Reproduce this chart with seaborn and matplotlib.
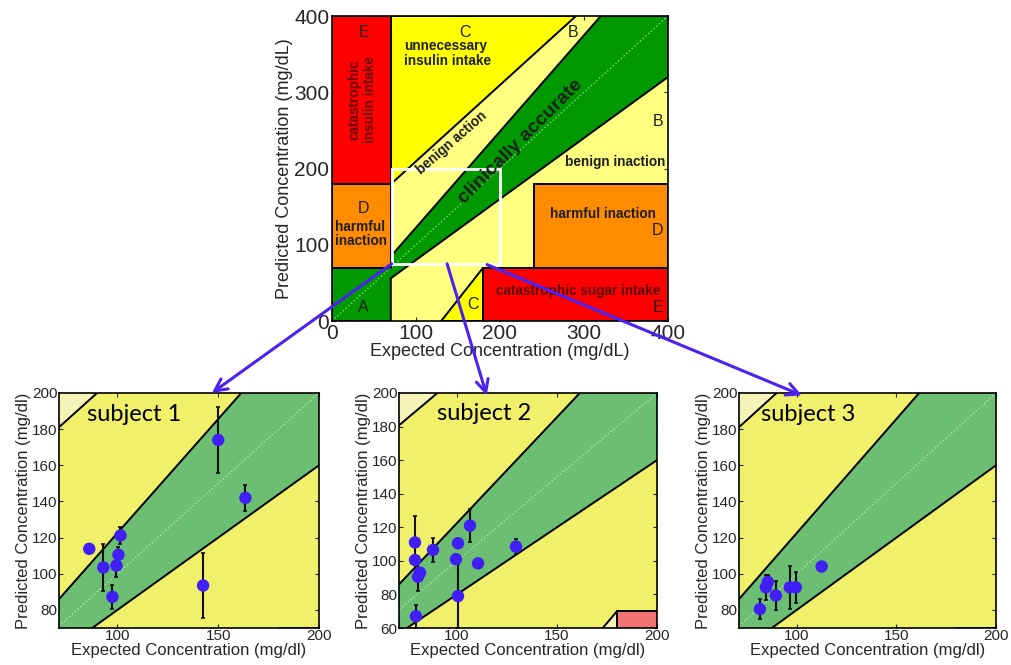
import matplotlib
matplotlib.use("Agg")
import matplotlib.pyplot as plt
from matplotlib.patches import Polygon, Rectangle, ConnectionPatch
import seaborn as sns
import pandas as pd

# ---- measurements per subject (mg/dl): expected, predicted mean, predicted SD ----
s1_expected = [86, 93, 97.5, 99.5, 100.5, 101.5, 142.5, 150, 163.5]
s1_predicted = [113.8, 103.5, 87.2, 104.5, 110.5, 121.2, 93.5, 174, 142]
s1_sd = [0, 13, 6.5, 6.5, 4.5, 4.5, 18, 18, 7]

s2_expected = [79, 79, 80.5, 81.5, 79.5, 88, 100.5, 99.5, 100.5, 106.5, 110.5, 129.5]
s2_predicted = [111, 100.5, 90.5, 93, 67, 106.5, 110.5, 101, 79, 121, 98.5, 108.5]
s2_sd = [16, 0, 8.5, 0, 7, 7, 0, 0, 19, 10, 0, 4.5]

s3_expected = [81.5, 84.5, 85.5, 89.5, 96.5, 99.5, 112.5]
s3_predicted = [80.5, 92.5, 95.5, 88, 92.5, 92.5, 104]
s3_sd = [5.5, 7, 4, 8, 12, 8.5, 0]

subjects = ["subject 1", "subject 2", "subject 3"]
zoom_ylims = [(70, 200), (60, 200), (70, 200)]
main_ticks = [0, 100, 200, 300, 400]
zoom_xticks = [100, 150, 200]

sns.set_style("ticks")
plt.rcParams["font.family"] = ["Liberation Sans", "DejaVu Sans"]

MAIN_COLORS = {"A": "#009a00", "B": "#ffff80", "C": "#ffff00",
               "D": "#ff8c00", "E": "#ff0000"}
ZOOM_COLORS = {"A": "#6cbe72", "B": "#f1f06a", "C": "#f6f3b8",
               "D": "#f7b46a", "E": "#f07272"}
POINT_COLOR = "#3f1ff5"
ARROW_COLOR = "#4a22f2"


def draw_grid(ax, col):
    """Clarke error grid zones A-E with their black boundaries."""
    ax.set_facecolor(col["B"])
    kw = dict(ec="black", lw=1.4, zorder=1)
    ax.add_patch(Polygon([(0, 0), (0, 70), (175 / 3, 70), (320, 400), (400, 400),
                          (400, 320), (70, 56), (70, 0)], fc=col["A"], **kw))
    ax.add_patch(Polygon([(70, 180), (70, 400), (290, 400)], fc=col["C"], **kw))
    ax.add_patch(Polygon([(130, 0), (180, 70), (180, 0)], fc=col["C"], **kw))
    ax.add_patch(Rectangle((0, 180), 70, 220, fc=col["E"], **kw))
    ax.add_patch(Rectangle((0, 70), 70, 110, fc=col["D"], **kw))
    ax.add_patch(Rectangle((180, 0), 220, 70, fc=col["E"], **kw))
    ax.add_patch(Rectangle((240, 70), 160, 110, fc=col["D"], **kw))
    ax.plot([0, 400], [0, 400], ls=":", color="white", alpha=0.55, lw=1, zorder=2)


def style_axes(ax):
    ax.tick_params(direction="in", top=True, right=True, length=3, width=0.8)
    for sp in ax.spines.values():
        sp.set_linewidth(1.2)
        sp.set_color("black")
        sp.set_zorder(6)


fig = plt.figure(figsize=(10.12, 6.65), dpi=100)
W, H = 1012, 665


def px_axes(x0, y0, x1, y1):
    return fig.add_axes([x0 / W, 1 - y1 / H, (x1 - x0) / W, (y1 - y0) / H])


# ---------------- overview grid ----------------
main = px_axes(332, 16, 668, 321)
draw_grid(main, MAIN_COLORS)
main.set_xlim(0, 400)
main.set_ylim(0, 400)
main.set_xticks(main_ticks)
main.set_yticks(main_ticks)
main.tick_params(labelsize=15, pad=2)
style_axes(main)
main.set_xlabel("Expected Concentration (mg/dL)", fontsize=13, labelpad=0)
main.set_ylabel("Predicted Concentration (mg/dL)", fontsize=13, labelpad=1)

txt = dict(color="#1e1e1e", zorder=4)
letter = dict(fontsize=11.5, ha="center", va="center", **txt)
main.text(38, 379, "E", **letter)
main.text(158, 379, "C", **letter)
main.text(287, 379, "B", **letter)
main.text(388, 262, "B", **letter)
main.text(37, 148, "D", **letter)
main.text(388, 119, "D", **letter)
main.text(37, 18, "A", **letter)
main.text(168, 21, "C", **letter)
main.text(388, 18, "E", **letter)

bold = dict(fontsize=9.8, fontweight="bold", **txt)
main.text(86, 351, "unnecessary\ninsulin intake", ha="left", va="center",
          linespacing=1.05, **bold)
main.text(36, 290, "catastrophic\ninsulin intake", ha="center", va="center",
          rotation=90, linespacing=1.05, alpha=0.6,
          fontsize=9.8, fontweight="bold", color="black", zorder=4)
main.text(143, 234, "benign action", ha="center", va="center", rotation=41, **bold)
main.text(224, 235, "clinically accurate", ha="center", va="center", rotation=45,
          fontsize=14, fontweight="bold", color="#1e1e1e", zorder=4)
main.text(397, 208, "benign inaction", ha="right", va="center", **bold)
main.text(3, 114, "harmful\ninaction", ha="left", va="center", linespacing=1.05, **bold)
main.text(322, 140, "harmful inaction", ha="center", va="center", **bold)
main.text(293, 39, "catastrophic sugar intake", ha="center", va="center",
          fontsize=9.8, fontweight="bold", color="black", alpha=0.65, zorder=4)

# zoom window drawn on the overview
main.add_patch(Rectangle((71, 75), 129, 125, fill=False, ec="white", lw=2, zorder=3))

# ---------------- per-subject zoomed grids ----------------
series = [(s1_expected, s1_predicted, s1_sd),
          (s2_expected, s2_predicted, s2_sd),
          (s3_expected, s3_predicted, s3_sd)]
boxes = [(59, 393, 319, 628), (399, 393, 657, 628), (739, 393, 996, 628)]
label_x = [85, 90, 82]
zooms = []
for (ex, pr, sd), box, name, ylim, lx in zip(series, boxes, subjects, zoom_ylims, label_x):
    ax = px_axes(*box)
    draw_grid(ax, ZOOM_COLORS)
    df = pd.DataFrame({"expected": ex, "predicted": pr, "sd": sd})
    ax.errorbar(df["expected"], df["predicted"], yerr=df["sd"], fmt="none",
                ecolor="#111111", elinewidth=1.5, capsize=1.5, capthick=1.2, zorder=4)
    sns.scatterplot(data=df, x="expected", y="predicted", ax=ax, color=POINT_COLOR,
                    s=80, edgecolor="none", zorder=5, legend=False)
    ax.set_xlim(71, 200)
    ax.set_ylim(*ylim)
    ax.set_xticks(zoom_xticks)
    ax.set_yticks(range(ylim[0] + (20 - ylim[0] % 20) % 20, 201, 20))
    ax.tick_params(labelsize=11, pad=1)
    style_axes(ax)
    ax.set_xlabel("Expected Concentration (mg/dl)", fontsize=12, labelpad=0)
    ax.set_ylabel("Predicted Concentration (mg/dl)", fontsize=12, labelpad=1)
    ax.text(lx, 188, name, fontsize=17, family=["Lato", "DejaVu Sans"],
            ha="left", va="center", color="black", zorder=6)
    zooms.append(ax)

# arrows from the zoom window to each subject panel
starts = [(71, 75), (137, 75), (184.5, 74)]
ends = [(0.588, 1.0), (0.34, 0.99), (0.245, 0.99)]
for (sx, sy), end, ax in zip(starts, ends, zooms):
    con = ConnectionPatch(xyA=(sx, sy), coordsA=main.transData, xyB=end,
                          coordsB=ax.transAxes, arrowstyle="->", color=ARROW_COLOR,
                          lw=2.2, mutation_scale=22, zorder=10)
    fig.add_artist(con)

fig.savefig("out.png", dpi=100)
